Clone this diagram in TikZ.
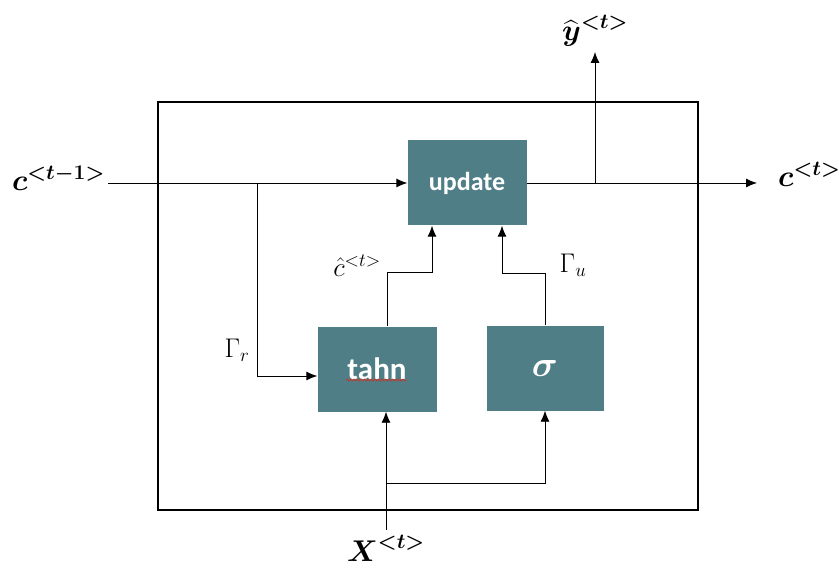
\RequirePackage{fix-cm}
\documentclass[tikz,border=0pt]{standalone}
\usepackage{amsmath}
\usepackage{fontspec}
\setsansfont{Carlito}
\usepackage{tikz}
\usetikzlibrary{arrows.meta, positioning, calc, decorations.pathmorphing}
\definecolor{colorCaja}{HTML}{4F7E86}
\definecolor{rojoOnda}{HTML}{C0392B}

\begin{document}
\begin{tikzpicture}[
        x=1pt, y=-1pt,
        gate/.style={fill=colorCaja, draw=none, minimum width=119pt, minimum height=85pt,
            text=white, font=\sffamily\bfseries\fontsize{26}{28}\selectfont},
        frame/.style={draw=black, line width=1.8pt, minimum width=540pt, minimum height=408pt},
        lbl/.style={inner sep=1pt, font=\fontsize{27}{29}\selectfont},
        big/.style={inner sep=1pt, font=\fontsize{30}{32}\selectfont},
        rel/.style={-{Latex[length=11pt, width=9pt]}, line width=0.9pt, black}
    ]
        \useasboundingbox (0,0) rectangle (839,575);

        \node[frame] (cell) at (428,306) {};
        \node[gate] (upd) at (467,183) {update};
        \node[gate, font=\sffamily\bfseries\fontsize{31}{33}\selectfont] (tahn) at (377,369) {tahn};
        \node[gate, minimum width=117pt, font=\fontsize{36}{38}\selectfont] (sig) at (545,368) {$\boldsymbol{\sigma}$};
        \draw[rojoOnda, line width=0.8pt, decorate, decoration={snake, amplitude=1pt, segment length=3.5pt}]
            ([xshift=-31pt, yshift=-11pt]tahn.center) -- ++(61,0);

        % entradas y salidas
        \coordinate (cin) at (108,183);
        \coordinate (br) at (257,183);
        \coordinate (cout) at (757,183);
        \coordinate (yb) at (595,183);
        \coordinate (yout) at (595,52);
        \coordinate (xin) at (386,530);
        \coordinate (xb) at (386,483);

        \node[big, left=2pt of cin, yshift=5pt] (cprev) {$\boldsymbol{c}^{\boldsymbol{<t-1>}}$};
        \node[big, right=20pt of cout, yshift=9pt] (cnext) {$\boldsymbol{c}^{\boldsymbol{<t>}}$};
        \node[big, above=4pt of yout] (yhat) {$\widehat{\boldsymbol{y}}^{\boldsymbol{<t>}}$};
        \node[big, below=4pt of xin] (xt) {$\boldsymbol{X}^{\boldsymbol{<t>}}$};
        \node[lbl] (gr) at (237,350) {$\Gamma_r$};
        \node[lbl] (chat) at (357,266) {$\hat{c}^{<t>}$};
        \node[lbl] (gu) at (573,265) {$\Gamma_u$};

        \draw[rel] (cin) -- (upd.west);
        \draw[rel] (br) |- ([yshift=-7pt]tahn.west);
        \draw[rel] (upd.east) -- (cout);
        \draw[rel] (yb) -- (yout);
        \draw[rel] ([xshift=10pt]tahn.north) -- ++(0,-54) -| ([xshift=-35pt]upd.south);
        \draw[rel] (sig.north) -- ++(0,-52) -| ([xshift=35pt]upd.south);
        \draw[rel] (xin) -- (xin |- tahn.south);
        \draw[rel] (xb) -| (sig.south);
    \end{tikzpicture}
\end{document}
